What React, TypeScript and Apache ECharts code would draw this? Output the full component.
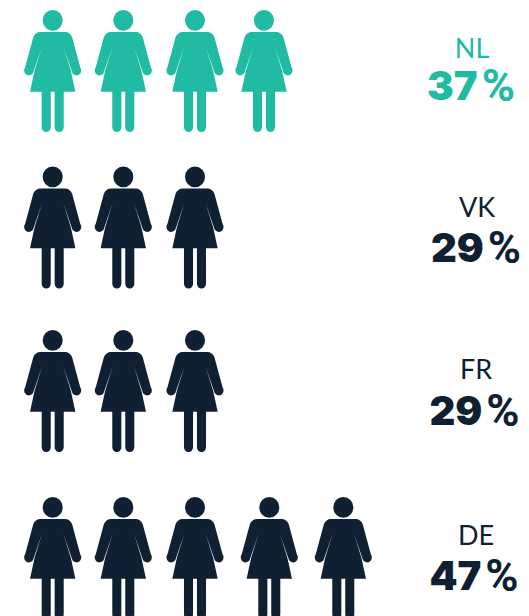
import React, { useEffect, useRef } from "react";
import * as echarts from "echarts";

const countries = ["NL", "VK", "FR", "DE"];
const percentages = [37, 29, 29, 47];
const iconCounts = [4, 3, 3, 5];
const rowColors = ["#20BBA2", "#0F2033", "#0F2033", "#0F2033"];

// axis positions (axes run in page pixels)
const rowCentres = [71, 227.5, 391, 558];
const columnCentres = [
  [52.7, 123.3, 195, 264],
  [52.7, 123.3, 195],
  [52.7, 123.3, 195],
  [52.7, 123.3, 195, 269.3, 343.3],
];
const nameCentres = [472, 477, 476, 476];
const valueCentres = [471, 476, 474.5, 474];
const nameRows = [47.5, 206, 368.5, 534];
const valueRows = [85.5, 247.5, 410.5, 575.5];

const personPath =
  "M55 31A31 31 0 1 1 117 31A31 31 0 1 1 55 31Z" +
  "M48 66H124C134 66 142 72 146 82L171 172A12.500 12.500 0 0 1 147 190L119 110L142 182L156 245H120V352A14 14 0 0 1 92 352V245H80V352A14 14 0 0 1 52 352V245H16L30 182L53 110L25 190A12.500 12.500 0 0 1 1 172L26 82C30 72 38 66 48 66Z";

export default function App() {
  const ref = useRef<HTMLDivElement>(null);
  useEffect(() => {
    const chart = echarts.init(ref.current!, undefined, { renderer: "svg" });
    const icons = countries.map((c, r) => ({
      type: "scatter" as const,
      name: c,
      symbol: "path://" + personPath,
      symbolSize: [57, 122],
      symbolKeepAspect: false,
      itemStyle: { color: rowColors[r], opacity: 1 },
      silent: true,
      data: columnCentres[r].slice(0, iconCounts[r]).map((x) => [x, rowCentres[r]]),
    }));
    const labelBase = {
      show: true,
      position: "inside" as const,
      align: "center" as const,
      verticalAlign: "middle" as const,
      opacity: 1,
    };
    const names = {
      type: "scatter" as const,
      symbolSize: 1,
      itemStyle: { color: "transparent", opacity: 1 },
      silent: true,
      data: countries.map((c, r) => ({
        value: [nameCentres[r], nameRows[r]],
        label: {
          ...labelBase,
          formatter: c,
          fontFamily: "Lato",
          fontSize: 27,
          fontWeight: 400,
          color: rowColors[r],
        },
      })),
    };
    const values = {
      type: "scatter" as const,
      symbolSize: 1,
      itemStyle: { color: "transparent", opacity: 1 },
      silent: true,
      data: countries.map((c, r) => ({
        value: [valueCentres[r], valueRows[r]],
        label: {
          ...labelBase,
          formatter: `{v|${percentages[r]}}{p|%}`,
          rich: {
            v: { fontFamily: "Inter", fontSize: 40, fontWeight: 900, color: rowColors[r] },
            p: { fontFamily: "Roboto", fontSize: 45, fontWeight: 700, color: rowColors[r], padding: [0, 0, 0, 4] },
          },
        },
      })),
    };
    chart.setOption({
      animation: false,
      backgroundColor: "#ffffff",
      grid: { left: 0, right: 0, top: 0, bottom: 0 },
      xAxis: { type: "value", min: 0, max: 529, show: false },
      yAxis: { type: "value", min: 0, max: 616, inverse: true, show: false },
      series: [...icons, names, values],
    });
    return () => chart.dispose();
  }, []);
  return <div ref={ref} style={{ position: "fixed", left: 0, top: 0, width: 529, height: 616 }} />;
}
